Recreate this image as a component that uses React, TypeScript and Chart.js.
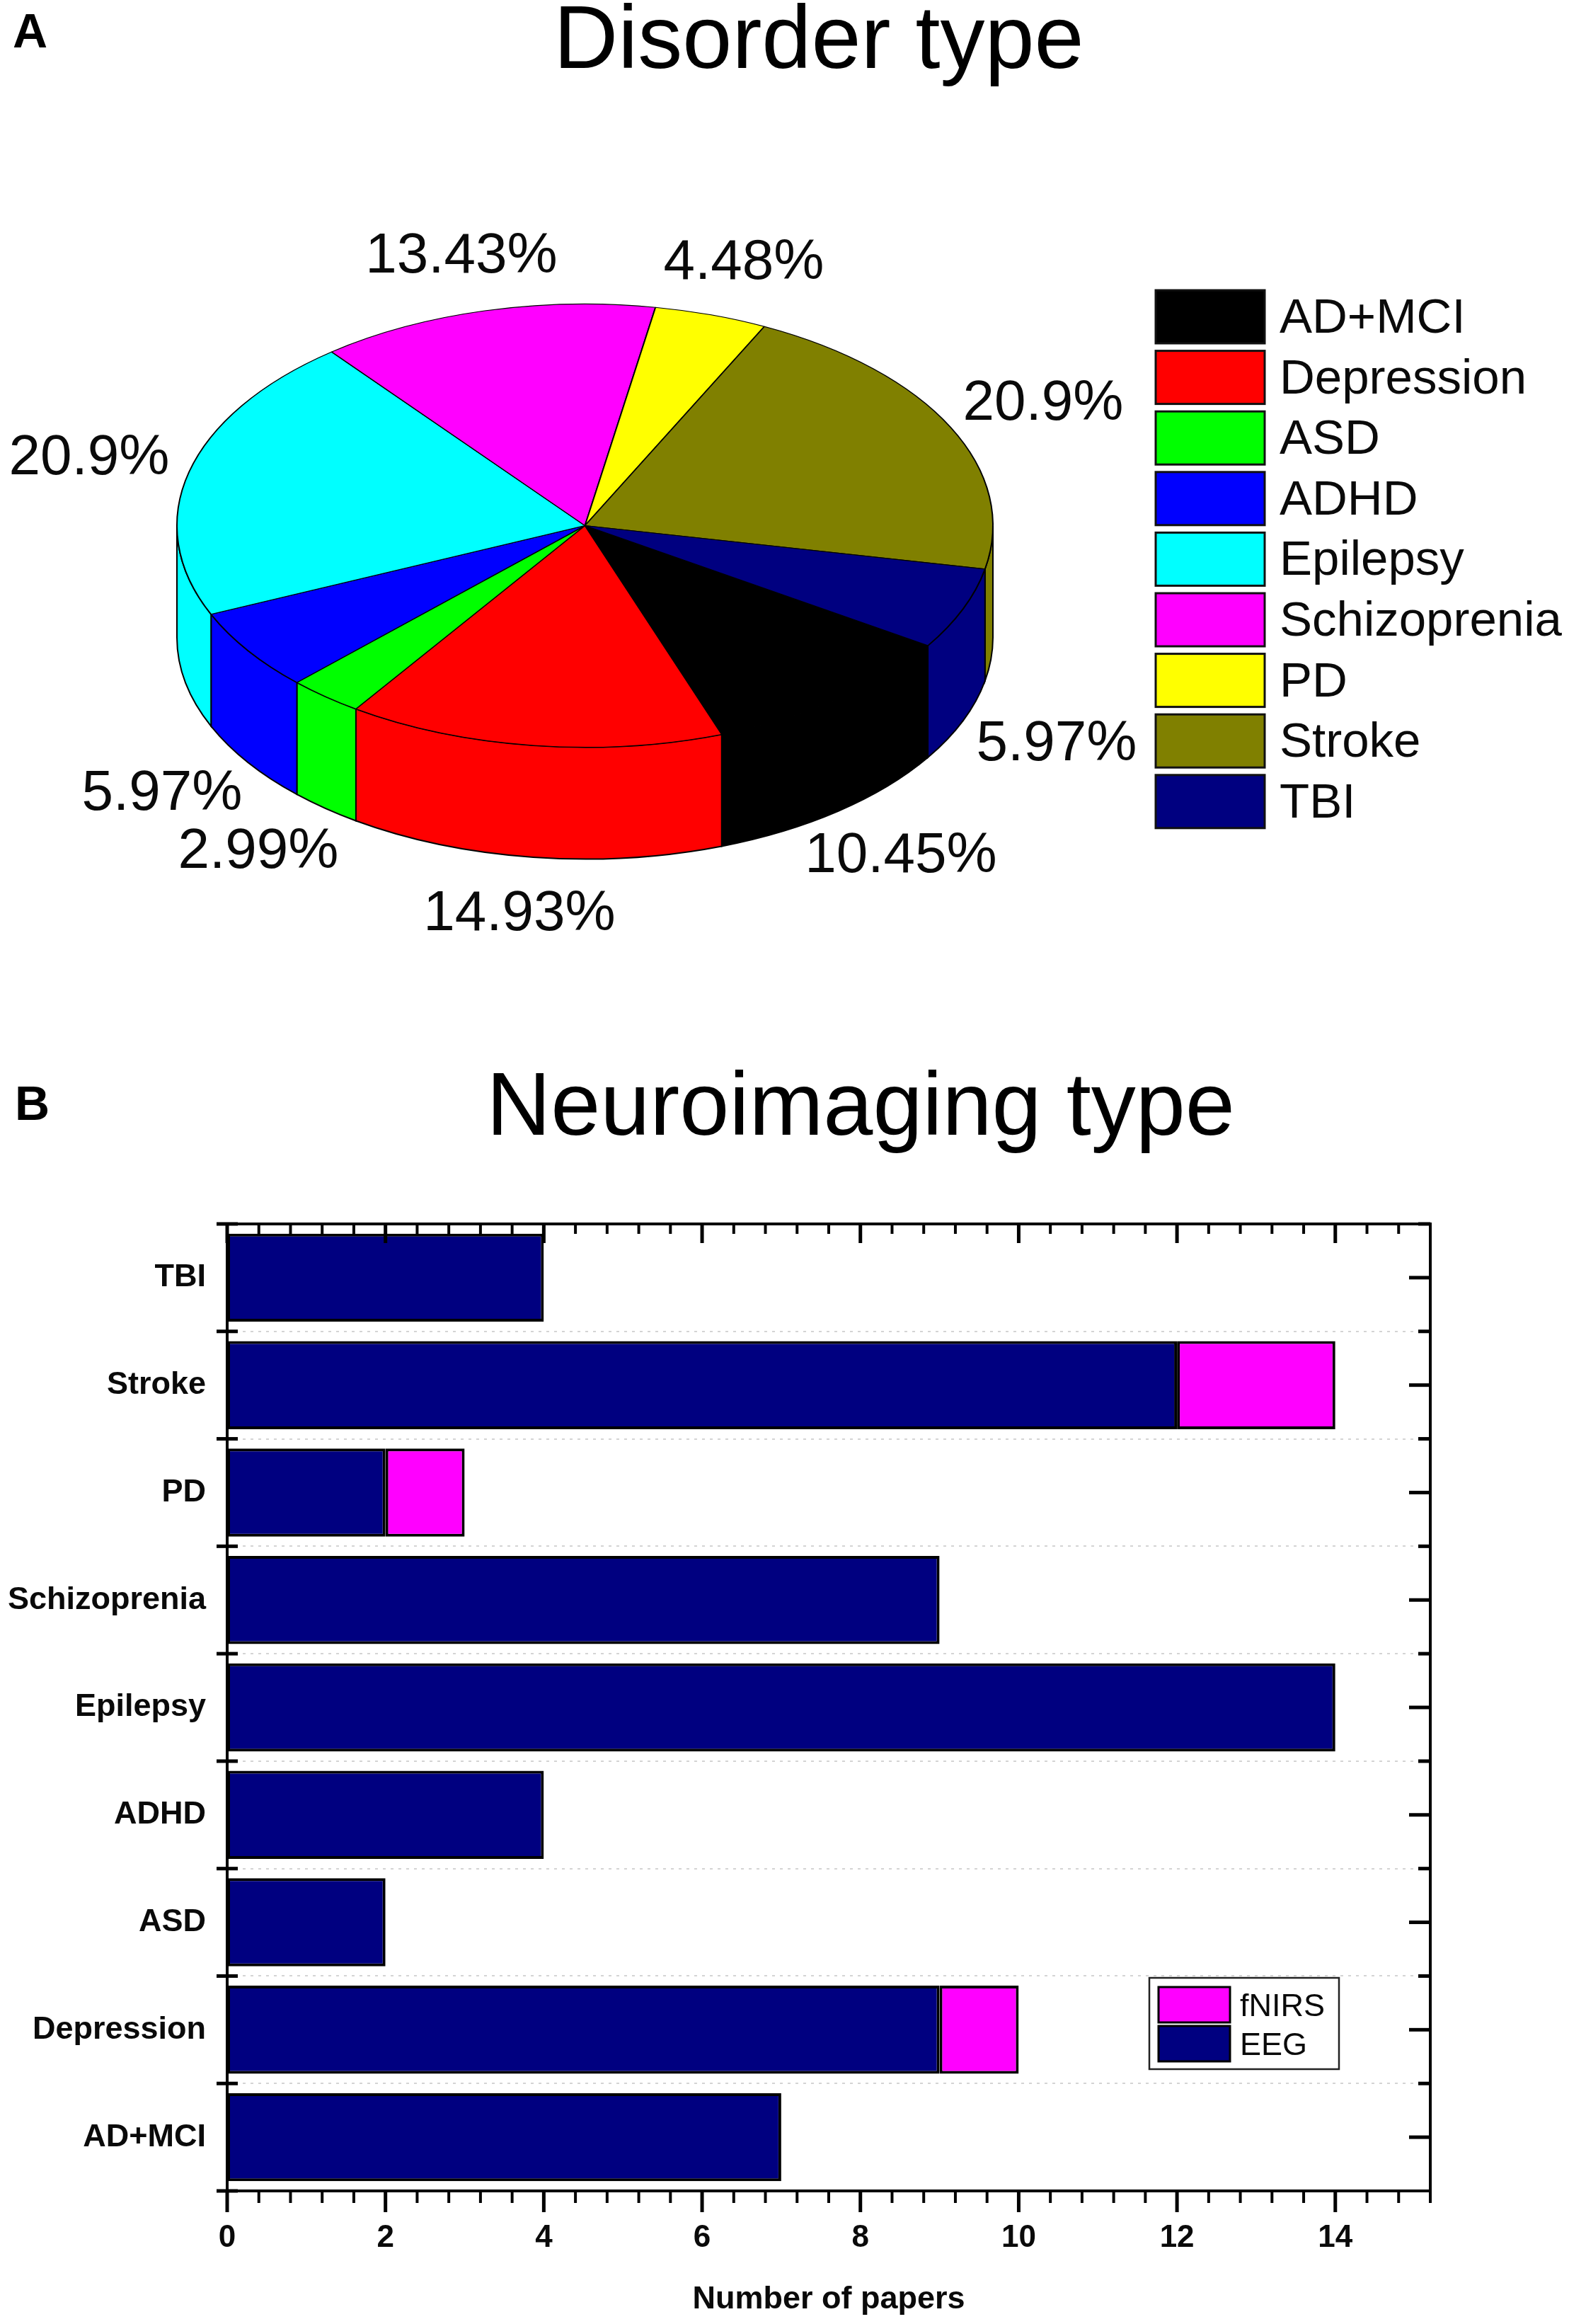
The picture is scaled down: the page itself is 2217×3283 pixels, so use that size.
import React, { useEffect, useRef } from "react";
import { Chart, registerables } from "chart.js";

Chart.register(...registerables);

const categories = ["AD+MCI", "Depression", "ASD", "ADHD", "Epilepsy", "Schizoprenia", "PD", "Stroke", "TBI"];
const shares = [10.45, 14.93, 2.99, 5.97, 20.9, 13.43, 4.48, 20.9, 5.97];
const sliceColors = ["#000000", "#ff0000", "#00ff00", "#0000ff", "#00ffff", "#ff00ff", "#ffff00", "#808000", "#000080"];
const eegPapers = [7, 9, 2, 4, 14, 9, 2, 12, 4];
const fnirsPapers = [null, 1, null, null, null, null, 1, 2, null];

const FONT = '"Liberation Sans", Arial, sans-serif';
const SQUASH = 0.543;
const DEPTH = 158;
const TEXT = "#0a0a0a";

// centre of each percentage text on the canvas, in category order
const shareLabelAt = [
  [1273, 1204], [734, 1286], [365, 1198], [229, 1116], [126, 642],
  [652, 357], [1051, 366], [1474, 565], [1493, 1046],
];

function drawHeader(ctx: CanvasRenderingContext2D, letter: string, lx: number, ly: number, title: string, tx: number, ty: number) {
  ctx.save();
  ctx.fillStyle = "#000";
  ctx.textBaseline = "alphabetic";
  ctx.textAlign = "left";
  ctx.font = `bold 68px ${FONT}`;
  ctx.fillText(letter, lx, ly);
  ctx.textAlign = "center";
  ctx.font = `126px ${FONT}`;
  ctx.fillText(title, tx, ty);
  ctx.restore();
}

const pie3d = {
  id: "pie3d",
  beforeDatasetsDraw(chart: any) {
    const ctx = chart.ctx;
    const arcs = chart.getDatasetMeta(0).data;
    const { x: cx, y: cy, outerRadius: r } = arcs[0];
    const ry = r * SQUASH;
    arcs.forEach((arc: any, i: number) => {
      for (const shift of [0, Math.PI * 2]) {
        const a0 = Math.max(arc.startAngle, shift);
        const a1 = Math.min(arc.endAngle, shift + Math.PI);
        if (a1 <= a0) continue;
        ctx.beginPath();
        ctx.ellipse(cx, cy, r, ry, 0, a0, a1);
        ctx.ellipse(cx, cy + DEPTH, r, ry, 0, a1, a0, true);
        ctx.closePath();
        ctx.fillStyle = sliceColors[i];
        ctx.fill();
        ctx.lineWidth = 2;
        ctx.strokeStyle = "#000";
        ctx.stroke();
      }
    });
    ctx.save();
    ctx.translate(cx, cy);
    ctx.scale(1, SQUASH);
    ctx.translate(-cx, -cy);
  },
  afterDatasetsDraw(chart: any) {
    const ctx = chart.ctx;
    ctx.restore();
    drawHeader(ctx, "A", 18, 67, "Disorder type", 1157, 96);
    ctx.save();
    ctx.fillStyle = TEXT;
    ctx.textAlign = "center";
    ctx.textBaseline = "alphabetic";
    ctx.font = `80px ${FONT}`;
    shares.forEach((v, i) => {
      const [x, y] = shareLabelAt[i];
      ctx.fillText(`${v}%`, x, y + 28);
    });
    // legend
    const top = 410, step = 85.6;
    categories.forEach((name, i) => {
      const y = top + i * step;
      ctx.fillStyle = sliceColors[i];
      ctx.fillRect(1633, y, 154, 75);
      ctx.lineWidth = 3;
      ctx.strokeStyle = "#111";
      ctx.strokeRect(1633, y, 154, 75);
      ctx.fillStyle = TEXT;
      ctx.textAlign = "left";
      ctx.font = `69px ${FONT}`;
      ctx.fillText(name, 1808, y + 60);
    });
    ctx.restore();
  },
};

const frame = {
  id: "frame",
  afterDatasetsDraw(chart: any) {
    const ctx = chart.ctx;
    const { left, right, top, bottom } = chart.chartArea;
    const xs = chart.scales.x;
    const ys = chart.scales.y;
    ctx.save();
    ctx.strokeStyle = "#000";
    ctx.lineCap = "butt";
    const seg = (x1: number, y1: number, x2: number, y2: number, w: number) => {
      ctx.lineWidth = w;
      ctx.beginPath();
      ctx.moveTo(x1, y1);
      ctx.lineTo(x2, y2);
      ctx.stroke();
    };
    xs.ticks.forEach((t: any) => {
      const px = xs.getPixelForValue(t.value);
      const major = Math.abs(t.value / 2 - Math.round(t.value / 2)) < 1e-6;
      seg(px, bottom, px, bottom + (major ? 30 : 17), major ? 5 : 4);
      seg(px, top, px, top + (major ? 27 : 14), major ? 5 : 4);
    });
    const n = categories.length;
    for (let i = 0; i < n; i++) {
      const c = ys.getPixelForValue(i);
      seg(right, c, right - 30, c, 5);
      const edge = i < n - 1 ? (c + ys.getPixelForValue(i + 1)) / 2 : top;
      seg(right, edge, right - 17, edge, 5);
      seg(left - 15, edge, left + 15, edge, 5);
    }
    seg(left - 15, bottom, left + 15, bottom, 5);
    ctx.lineWidth = 4;
    ctx.strokeRect(left, top, right - left, bottom - top);

    // legend
    ctx.fillStyle = "#fff";
    ctx.fillRect(1624, 2794 - OFFSET, 268, 129);
    ctx.lineWidth = 2.5;
    ctx.strokeStyle = "#222";
    ctx.strokeRect(1624, 2794 - OFFSET, 268, 129);
    chart.data.datasets
      .slice()
      .reverse()
      .forEach((d: any, i: number) => {
        const y = 2807 - OFFSET + i * 55;
        ctx.fillStyle = d.backgroundColor;
        ctx.fillRect(1637, y, 101, 50);
        ctx.lineWidth = 3;
        ctx.strokeStyle = "#000";
        ctx.strokeRect(1637, y, 101, 50);
        ctx.fillStyle = TEXT;
        ctx.font = `45px ${FONT}`;
        ctx.textAlign = "left";
        ctx.textBaseline = "alphabetic";
        ctx.fillText(d.label, 1752, y + 41);
      });
    drawHeader(ctx, "B", 21, 1582 - OFFSET, "Neuroimaging type", 1216, 1603 - OFFSET);
    ctx.restore();
  },
};

const OFFSET = 1460;

export default function App() {
  const pieRef = useRef<HTMLCanvasElement>(null);
  const barRef = useRef<HTMLCanvasElement>(null);

  useEffect(() => {
    document.body.style.margin = "0";
    document.body.style.background = "#fff";
    const pie = new Chart(pieRef.current!, {
      type: "pie",
      data: {
        labels: categories,
        datasets: [{ data: shares, backgroundColor: sliceColors, borderColor: "#000", borderWidth: 2 }],
      },
      options: {
        animation: false,
        responsive: false,
        devicePixelRatio: 1,
        rotation: 122.8,
        layout: { padding: { left: 249, right: 813, top: 165, bottom: 80 } },
        plugins: { legend: { display: false }, tooltip: { enabled: false }, title: { display: false } },
      },
      plugins: [pie3d],
    } as any);

    const bar = new Chart(barRef.current!, {
      type: "bar",
      data: {
        labels: categories,
        datasets: [
          { label: "EEG", data: eegPapers, backgroundColor: "#000080", borderColor: "#000", borderWidth: 4, borderSkipped: false },
          { label: "fNIRS", data: fnirsPapers, backgroundColor: "#ff00ff", borderColor: "#000", borderWidth: 4, borderSkipped: false },
        ],
      },
      options: {
        indexAxis: "y",
        animation: false,
        responsive: false,
        devicePixelRatio: 1,
        barPercentage: 0.82,
        categoryPercentage: 1,
        layout: { padding: { left: 0, right: 196, top: 269, bottom: 0 } },
        plugins: { legend: { display: false }, tooltip: { enabled: false }, title: { display: false } },
        scales: {
          x: {
            stacked: true,
            min: 0,
            max: 15.2,
            afterFit: (s: any) => { s.height = 188; },
            grid: { display: false },
            border: { display: false },
            ticks: {
              stepSize: 0.4,
              autoSkip: false,
              maxRotation: 0,
              padding: 32,
              color: TEXT,
              font: { family: FONT, weight: "bold", size: 44 },
              callback: (v: any) => {
                const h = Number(v) / 2;
                return Math.abs(h - Math.round(h)) < 1e-6 ? String(Math.round(h) * 2) : "";
              },
            },
            title: {
              display: true,
              text: "Number of papers",
              color: TEXT,
              font: { family: FONT, weight: "bold", size: 45 },
              padding: { top: 0, bottom: 7 },
            },
          },
          y: {
            stacked: true,
            reverse: true,
            afterFit: (s: any) => { s.width = 321; },
            border: { display: false, dash: [4, 7] },
            grid: { color: "#d4d4d4", lineWidth: 2, drawTicks: false },
            ticks: {
              padding: 30,
              color: TEXT,
              font: { family: FONT, weight: "bold", size: 45 },
              autoSkip: false,
            },
          },
        },
      },
      plugins: [frame],
    } as any);

    return () => {
      pie.destroy();
      bar.destroy();
    };
  }, []);

  return (
    <div style={{ position: "absolute", left: 0, top: 0, width: 2217, height: 3283, overflow: "hidden", background: "#fff" }}>
      <canvas ref={pieRef} width={2217} height={1400} style={{ position: "absolute", left: 0, top: 0, display: "block" }} />
      <canvas ref={barRef} width={2217} height={3283 - OFFSET} style={{ position: "absolute", left: 0, top: OFFSET, display: "block" }} />
    </div>
  );
}
